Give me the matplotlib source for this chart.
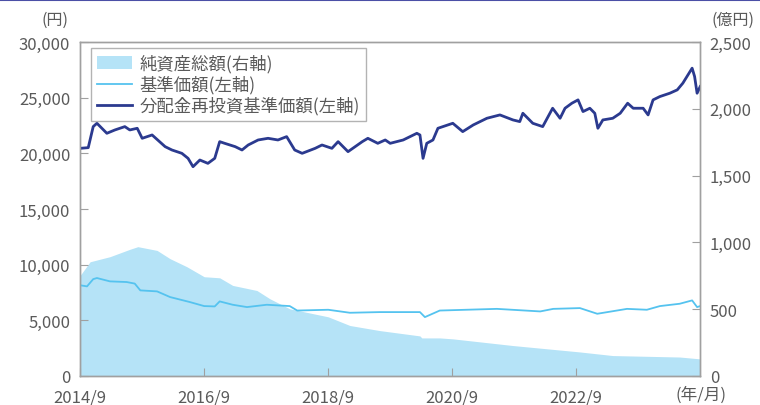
import matplotlib
matplotlib.use("Agg")
import matplotlib.pyplot as plt
from matplotlib.lines import Line2D
from matplotlib.patches import Patch

plt.rcParams['font.family'] = ['Noto Sans CJK JP', 'DejaVu Sans']

# 純資産総額 (右軸, 億円)
nav_total_t = [2014.67, 2014.83, 2015.15, 2015.47, 2015.60, 2015.91, 2016.12, 2016.39,
               2016.67, 2016.92, 2017.13, 2017.52, 2017.73, 2018.05, 2018.67, 2019.02,
               2019.50, 2020.15, 2020.18, 2020.47, 2020.68, 2021.65, 2022.73, 2023.26,
               2024.34, 2024.67]
nav_total_v = [753, 855, 893, 948, 968, 940, 878, 818,
               743, 735, 678, 640, 578, 503, 443, 378,
               340, 300, 285, 285, 278, 228, 180, 153,
               142, 128]

# 基準価額 (左軸, 円)
price_t = [2014.67, 2014.78, 2014.88, 2014.94, 2015.15, 2015.42, 2015.55, 2015.64,
           2015.91, 2016.12, 2016.44, 2016.67, 2016.84, 2016.92, 2017.13, 2017.36,
           2017.68, 2018.05, 2018.17, 2018.67, 2019.02, 2019.50, 2020.15, 2020.23,
           2020.47, 2021.39, 2022.09, 2022.30, 2022.73, 2023.01, 2023.49, 2023.81,
           2024.02, 2024.34, 2024.54, 2024.62, 2024.67]
price_v = [8150, 8050, 8700, 8800, 8500, 8440, 8300, 7690,
           7600, 7090, 6640, 6280, 6250, 6700, 6400, 6190,
           6400, 6280, 5880, 5950, 5680, 5740, 5740, 5290,
           5880, 6030, 5800, 6030, 6100, 5590, 6030, 5950,
           6280, 6490, 6790, 6190, 6280]

# 分配金再投資基準価額 (左軸, 円)
reinv_t = [2014.67, 2014.80, 2014.88, 2014.94, 2015.02, 2015.10, 2015.23, 2015.39,
           2015.47, 2015.59, 2015.67, 2015.83, 2015.92, 2016.04, 2016.15, 2016.31,
           2016.41, 2016.49, 2016.60, 2016.73, 2016.84, 2016.92, 2017.00, 2017.17,
           2017.28, 2017.38, 2017.54, 2017.70, 2017.86, 2018.00, 2018.13, 2018.25,
           2018.46, 2018.57, 2018.73, 2018.83, 2018.99, 2019.22, 2019.31, 2019.47,
           2019.59, 2019.67, 2019.88, 2020.10, 2020.15, 2020.20, 2020.26, 2020.36,
           2020.44, 2020.68, 2020.84, 2021.01, 2021.23, 2021.44, 2021.65, 2021.76,
           2021.81, 2021.97, 2022.13, 2022.29, 2022.41, 2022.49, 2022.60, 2022.70,
           2022.78, 2022.89, 2022.97, 2023.02, 2023.10, 2023.26, 2023.38, 2023.50,
           2023.59, 2023.75, 2023.83, 2023.91, 2024.02, 2024.18, 2024.30, 2024.39,
           2024.54, 2024.58, 2024.62, 2024.67]
reinv_v = [20450, 20510, 22400, 22700, 22250, 21800, 22100, 22400,
           22100, 22250, 21350, 21650, 21200, 20600, 20300, 20000,
           19550, 18800, 19400, 19100, 19550, 21050, 20900, 20600,
           20300, 20750, 21200, 21350, 21200, 21500, 20300, 20000,
           20450, 20750, 20450, 21050, 20150, 21050, 21350, 20900,
           21200, 20900, 21200, 21800, 21650, 19550, 20900, 21200,
           22250, 22700, 21950, 22550, 23150, 23450, 23000, 22850,
           23600, 22700, 22400, 24050, 23150, 24050, 24500, 24800,
           23750, 24050, 23600, 22250, 23000, 23150, 23600, 24500,
           24050, 24050, 23450, 24800, 25100, 25400, 25700, 26300,
           27650, 26900, 25400, 26000]

xtick_pos = [2014.667, 2016.667, 2018.667, 2020.667, 2022.667]
xtick_labels = ["2014/9", "2016/9", "2018/9", "2020/9", "2022/9"]
left_ticks = [0, 5000, 10000, 15000, 20000, 25000, 30000]
right_ticks = [0, 500, 1000, 1500, 2000, 2500]

C_FILL = '#b5e3f7'
C_LIGHT = '#55c3ef'
C_NAVY = '#2b3a8f'
C_GRAY = '#5a5a5a'
C_SPINE = '#a0a0a0'

fig = plt.figure(figsize=(7.6, 4.06), dpi=100)
ax = fig.add_axes([80/760, 1-377/406, 620/760, 334/406])
ax2 = ax.twinx()

ax2.fill_between(nav_total_t, 0, nav_total_v, color=C_FILL, linewidth=0)
ax.plot(price_t, price_v, color=C_LIGHT, lw=1.3)
ax.plot(reinv_t, reinv_v, color=C_NAVY, lw=2.0)

ax.set_zorder(ax2.get_zorder() + 1)
ax.patch.set_visible(False)

ax.set_xlim(2014.667, 2024.667)
ax.set_ylim(0, 30000)
ax2.set_ylim(0, 2500)

ax.set_xticks(xtick_pos)
ax.set_xticklabels(xtick_labels)
ax.set_yticks(left_ticks)
ax.set_yticklabels([f"{v:,}" for v in left_ticks])
ax2.set_yticks(right_ticks)
ax2.set_yticklabels([f"{v:,}" for v in right_ticks])

for a in (ax, ax2):
    for s in a.spines.values():
        s.set_color(C_SPINE)
        s.set_linewidth(1.0)
ax.tick_params(axis='both', direction='in', length=6, color=C_SPINE,
               labelcolor=C_GRAY, labelsize=12, pad=7)
ax.tick_params(axis='x', pad=9)
ax2.tick_params(axis='y', direction='in', length=6, color=C_SPINE,
                labelcolor=C_GRAY, labelsize=12, pad=7)

handles = [Patch(facecolor=C_FILL, edgecolor='none'),
           Line2D([], [], color=C_LIGHT, lw=1.3),
           Line2D([], [], color=C_NAVY, lw=2.0)]
labels = ["純資産総額(右軸)", "基準価額(左軸)", "分配金再投資基準価額(左軸)"]
leg = ax.legend(handles, labels, loc='upper left', bbox_to_anchor=(0.018, 0.982),
                borderaxespad=0, fontsize=12.5, frameon=True, fancybox=False,
                handlelength=2.0, handleheight=0.7, labelspacing=0.15,
                borderpad=0.35, handletextpad=0.45, labelcolor=C_GRAY)
leg.get_frame().set_edgecolor(C_SPINE)
leg.get_frame().set_linewidth(1.0)

fig.text(55/760, 1-20/406, "(円)", ha='center', va='center', fontsize=11.5, color=C_GRAY)
fig.text(733/760, 1-20/406, "(億円)", ha='center', va='center', fontsize=11.5, color=C_GRAY)
fig.text(701/760, 1-395/406, "(年/月)", ha='center', va='center', fontsize=12, color=C_GRAY)

fig.add_artist(Line2D([0, 1], [1-1/406, 1-1/406], color='#4b4fa6', lw=1.5,
                      transform=fig.transFigure))

fig.savefig("out.png", dpi=100)
